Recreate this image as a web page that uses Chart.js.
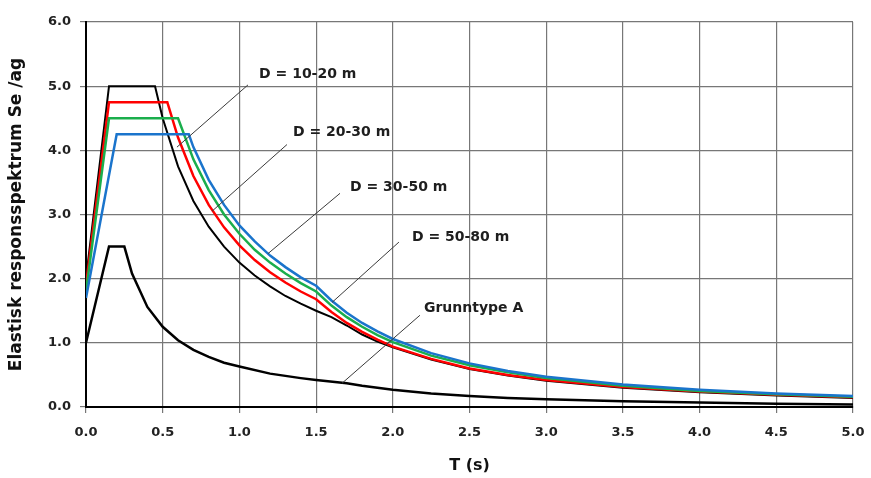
<!DOCTYPE html>
<html>
<head>
<meta charset="utf-8">
<script src="https://cdn.jsdelivr.net/npm/chart.js@4.4.0/dist/chart.umd.min.js"></script>
<style>
  body { margin: 0; background: #fff; }
  #wrap { width: 871px; height: 478px; }
</style>
</head>
<body>
<div id="wrap"><canvas id="spectrum" width="871" height="478"></canvas></div>
<script>
// periods (s) and Se/ag values, one pair of arrays per curve
const tD10_20 = [0, 0.15, 0.45, 0.5, 0.6, 0.7, 0.8, 0.9, 1.0, 1.1, 1.2, 1.3, 1.4, 1.5, 1.6, 1.7, 1.8, 1.9, 2.0, 2.25, 2.5, 2.75, 3.0, 3.5, 4.0, 4.5, 5.0];
const seD10_20 = [2.0, 5.0, 5.0, 4.50, 3.75, 3.21, 2.81, 2.50, 2.25, 2.05, 1.88, 1.73, 1.61, 1.50, 1.40, 1.27, 1.13, 1.02, 0.93, 0.74, 0.59, 0.49, 0.41, 0.30, 0.23, 0.18, 0.14];

const tD20_30 = [0, 0.15, 0.53, 0.6, 0.7, 0.8, 0.9, 1.0, 1.1, 1.2, 1.3, 1.4, 1.5, 1.6, 1.7, 1.8, 1.9, 2.0, 2.25, 2.5, 2.75, 3.0, 3.5, 4.0, 4.5, 5.0];
const seD20_30 = [1.9, 4.75, 4.75, 4.20, 3.60, 3.15, 2.80, 2.52, 2.29, 2.10, 1.94, 1.80, 1.68, 1.48, 1.31, 1.17, 1.05, 0.94, 0.75, 0.60, 0.50, 0.42, 0.31, 0.24, 0.19, 0.15];

const tD30_50 = [0, 0.15, 0.6, 0.7, 0.8, 0.9, 1.0, 1.1, 1.2, 1.3, 1.4, 1.5, 1.6, 1.7, 1.8, 1.9, 2.0, 2.25, 2.5, 2.75, 3.0, 3.5, 4.0, 4.5, 5.0];
const seD30_50 = [1.8, 4.5, 4.5, 3.86, 3.38, 3.00, 2.70, 2.45, 2.25, 2.08, 1.93, 1.80, 1.58, 1.40, 1.25, 1.12, 1.01, 0.80, 0.65, 0.54, 0.45, 0.33, 0.25, 0.20, 0.16];

const tD50_80 = [0, 0.2, 0.67, 0.7, 0.8, 0.9, 1.0, 1.1, 1.2, 1.3, 1.4, 1.5, 1.6, 1.7, 1.8, 1.9, 2.0, 2.25, 2.5, 2.75, 3.0, 3.5, 4.0, 4.5, 5.0];
const seD50_80 = [1.7, 4.25, 4.25, 4.05, 3.54, 3.15, 2.83, 2.58, 2.36, 2.18, 2.02, 1.89, 1.66, 1.47, 1.31, 1.18, 1.06, 0.84, 0.68, 0.56, 0.47, 0.35, 0.27, 0.21, 0.17];

const tGroundA = [0, 0.15, 0.25, 0.3, 0.4, 0.5, 0.6, 0.7, 0.8, 0.9, 1.0, 1.2, 1.4, 1.5, 1.7, 1.8, 2.0, 2.25, 2.5, 2.75, 3.0, 3.5, 4.0, 4.5, 5.0];
const seGroundA = [1.0, 2.5, 2.5, 2.08, 1.56, 1.25, 1.04, 0.89, 0.78, 0.69, 0.63, 0.52, 0.45, 0.42, 0.37, 0.33, 0.27, 0.21, 0.17, 0.14, 0.12, 0.09, 0.07, 0.05, 0.04];

const xTicks = [0, 0.5, 1.0, 1.5, 2.0, 2.5, 3.0, 3.5, 4.0, 4.5, 5.0];
const yTicks = [0, 1, 2, 3, 4, 5, 6];

// callout text + leader line, in data units
const callouts = [
  { text: "D = 10-20 m", at: [1.128, 5.19], from: [1.056, 5.02], to: [0.593, 4.05] },
  { text: "D = 20-30 m", at: [1.349, 4.28], from: [1.31, 4.09], to: [0.821, 3.05] },
  { text: "D = 30-50 m", at: [1.721, 3.43], from: [1.656, 3.33], to: [1.186, 2.39] },
  { text: "D = 50-80 m", at: [2.125, 2.64], from: [2.04, 2.57], to: [1.604, 1.63] },
  { text: "Grunntype A", at: [2.203, 1.53], from: [2.177, 1.43], to: [1.669, 0.37] },
];

function toPoints(ts, vs) {
  return ts.map((t, i) => ({ x: t, y: vs[i] }));
}

const calloutPlugin = {
  id: "callouts",
  afterDatasetsDraw(chart) {
    const ctx = chart.ctx;
    const xs = chart.scales.x;
    const ys = chart.scales.y;
    ctx.save();
    ctx.strokeStyle = "#3a3a3a";
    ctx.lineWidth = 1;
    ctx.fillStyle = "#1e1e1e";
    ctx.font = "bold 14px 'DejaVu Sans'";
    ctx.textAlign = "left";
    ctx.textBaseline = "middle";
    callouts.forEach((c) => {
      ctx.beginPath();
      ctx.moveTo(xs.getPixelForValue(c.from[0]), ys.getPixelForValue(c.from[1]));
      ctx.lineTo(xs.getPixelForValue(c.to[0]), ys.getPixelForValue(c.to[1]));
      ctx.stroke();
      ctx.fillText(c.text, xs.getPixelForValue(c.at[0]), ys.getPixelForValue(c.at[1]));
    });
    ctx.restore();
  },
};

const ctx = document.getElementById("spectrum").getContext("2d");

new Chart(ctx, {
  type: "line",
  data: {
    datasets: [
      { label: "D = 50-80 m", data: toPoints(tD50_80, seD50_80), borderColor: "#1a74cc", borderWidth: 2.5 },
      { label: "D = 30-50 m", data: toPoints(tD30_50, seD30_50), borderColor: "#1aae4c", borderWidth: 2.5 },
      { label: "D = 20-30 m", data: toPoints(tD20_30, seD20_30), borderColor: "#ff0000", borderWidth: 2.5 },
      { label: "D = 10-20 m", data: toPoints(tD10_20, seD10_20), borderColor: "#000000", borderWidth: 2 },
      { label: "Grunntype A", data: toPoints(tGroundA, seGroundA), borderColor: "#000000", borderWidth: 2.5 },
    ],
  },
  options: {
    responsive: false,
    animation: false,
    elements: {
      point: { radius: 0 },
      line: { tension: 0, fill: false },
    },
    layout: { padding: { left: 0, right: 18, top: 22, bottom: 0 } },
    plugins: {
      legend: { display: false },
      tooltip: { enabled: false },
    },
    scales: {
      x: {
        type: "linear",
        min: 0,
        max: 5,
        afterBuildTicks: (scale) => {
          scale.ticks = xTicks.map((v) => ({ value: v }));
        },
        afterFit: (scale) => {
          scale.height = 71;
          // let the layout padding decide the right edge, not the last label
          scale.paddingLeft = 0;
          scale.paddingRight = 0;
        },
        ticks: {
          callback: (v) => Number(v).toFixed(1),
          color: "#222",
          font: { family: "DejaVu Sans", size: 13, weight: "bold" },
          padding: 12,
          maxRotation: 0,
        },
        grid: { color: "#777", lineWidth: 1.2, tickLength: 6 },
        border: { color: "#000", width: 2 },
        title: {
          display: true,
          text: "T (s)",
          color: "#111",
          font: { family: "DejaVu Sans", size: 16, weight: "bold" },
          padding: { top: 0, bottom: 3 },
        },
      },
      y: {
        min: 0,
        max: 6,
        afterBuildTicks: (scale) => {
          scale.ticks = yTicks.map((v) => ({ value: v }));
        },
        afterFit: (scale) => {
          scale.width = 86;
        },
        ticks: {
          callback: (v) => Number(v).toFixed(1),
          color: "#222",
          font: { family: "DejaVu Sans", size: 13, weight: "bold" },
          padding: 9,
        },
        grid: { color: "#777", lineWidth: 1.2, tickLength: 6 },
        border: { color: "#000", width: 2 },
        title: {
          display: true,
          text: "Elastisk responsspektrum Se /ag",
          color: "#111",
          font: { family: "DejaVu Sans", size: 17, weight: "bold" },
          padding: { top: 6, bottom: 0 },
        },
      },
    },
  },
  plugins: [calloutPlugin],
});
</script>
</body>
</html>
